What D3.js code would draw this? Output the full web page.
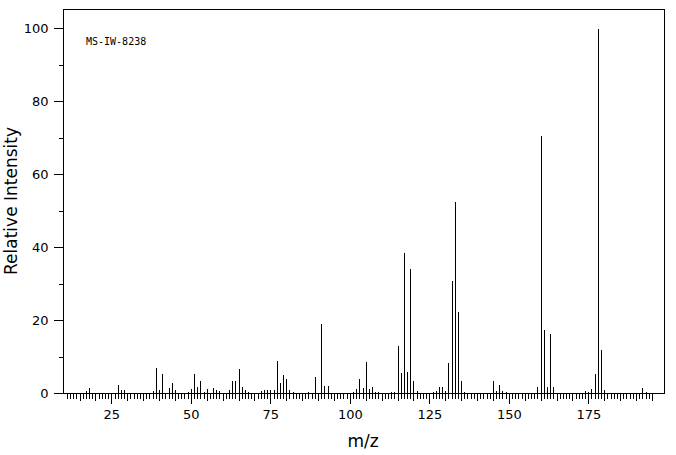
<!DOCTYPE html>
<html>
<head>
<meta charset="utf-8">
<script src="https://cdn.jsdelivr.net/npm/d3@7"></script>
<style>
	body { margin: 0; background: #fff; }
</style>
</head>
<body>
<div id="chart"></div>
<script>
// peaks
var mz = [15, 16, 17, 18, 27, 28, 29, 31, 37, 38, 39, 40, 41, 42, 43, 44, 45, 46, 49, 50,
	51, 52, 53, 54, 55, 56, 57, 58, 59, 61, 62, 63, 64, 65, 66, 67, 68, 69, 71, 72,
	73, 74, 75, 76, 77, 78, 79, 80, 81, 82, 86, 87, 88, 89, 90, 91, 92, 93, 94, 95,
	97, 99, 101, 102, 103, 104, 105, 106, 107, 108, 109, 111, 112, 113, 114, 115, 116, 117, 118, 119,
	120, 121, 122, 126, 127, 128, 129, 130, 131, 132, 133, 134, 135, 136, 145, 146, 147, 148, 149, 150,
	157, 158, 159, 160, 161, 162, 163, 164, 165, 174, 175, 176, 177, 178, 179, 180, 181, 192, 193, 194];
var intensity = [0.4, 0.4, 0.7, 1.6, 2.5, 1.0, 1.0, 0.4, 0.4, 0.8, 7.2, 1.1, 5.6, 0.4, 1.6, 3.1, 1.0, 0.2, 0.5, 1.4,
	5.6, 1.8, 3.6, 0.5, 1.4, 0.3, 1.6, 1.2, 0.7, 0.4, 1.0, 3.6, 3.6, 6.9, 1.8, 1.1, 0.5, 0.4, 0.4, 0.8,
	1.2, 1.2, 1.1, 1.0, 9.1, 3.1, 5.2, 4.1, 1.1, 0.6, 0.4, 0.5, 0.4, 4.7, 0.4, 19.3, 2.2, 2.2, 0.4, 0.3,
	0.3, 0.3, 0.6, 1.4, 4.1, 1.6, 8.8, 1.4, 2.0, 0.5, 0.5, 0.3, 0.4, 0.5, 0.5, 13.1, 5.8, 38.5, 6.0, 34.2,
	3.6, 0.9, 0.4, 0.5, 0.9, 2.0, 2.0, 0.7, 8.5, 30.9, 52.5, 22.5, 3.6, 0.5, 3.6, 0.9, 2.6, 0.9, 0.5, 0.3,
	0.4, 0.4, 1.9, 70.6, 17.5, 1.9, 16.4, 1.9, 0.4, 0.8, 0.5, 1.4, 5.5, 100, 12.0, 1.1, 0.3, 1.6, 0.6, 0.3];

var xMajor = [25, 50, 75, 100, 125, 150, 175];
var yMajor = [0, 20, 40, 60, 80, 100];
var yMinor = [10, 30, 50, 70, 90];
var title = "MS-IW-8238";

var width = 676, height = 455;
var plotLeft = 63, plotRight = 664, plotTop = 9, plotBottom = 393;

var svg = d3.select("#chart").append("svg")
	.attr("width", width)
	.attr("height", height);

var x = d3.scaleLinear().domain([9.8, 198.8]).range([plotLeft, plotRight]);
var y = d3.scaleLinear().domain([0, 100]).range([plotBottom, 28]);

function px(v) { return Math.round(v) + 0.5; }

// frame
svg.append("rect")
	.attr("x", plotLeft + 0.5)
	.attr("y", plotTop + 0.5)
	.attr("width", plotRight - plotLeft)
	.attr("height", plotBottom - plotTop)
	.attr("fill", "none")
	.attr("stroke", "#000")
	.attr("shape-rendering", "crispEdges");

// x axis: minor every unit, medium every 5, labelled every 25
var xMinor = d3.range(11, 196).filter(function(d){ return d % 5 != 0; });
var xMid = d3.range(15, 196, 5).filter(function(d){ return d % 25 != 0; });

function styleAxis(g) {
	g.select(".domain").remove();
	g.selectAll("line").attr("stroke", "#000").attr("shape-rendering", "crispEdges");
	g.selectAll("text")
		.style("font-family", "'DejaVu Sans', sans-serif")
		.style("font-size", "13px")
		.attr("fill", "#000");
}

function xTicks(values, size, labels) {
	var g = svg.append("g")
		.attr("transform", "translate(0," + (plotBottom + 0.5) + ")")
		.call(d3.axisBottom(x).tickValues(values).tickSize(size).tickPadding(6)
			.tickFormat(labels ? d3.format("d") : ""));
	styleAxis(g);
	return g;
}
xTicks(xMinor, 5, false);
xTicks(xMid, 7, false);
xTicks(xMajor, 10, true);

function yTicks(values, size, labels) {
	var g = svg.append("g")
		.attr("transform", "translate(" + (plotLeft + 0.5) + ",0)")
		.call(d3.axisLeft(y).tickValues(values).tickSize(size).tickPadding(5)
			.tickFormat(labels ? d3.format("d") : ""));
	styleAxis(g);
	return g;
}
yTicks(yMinor, 5, false);
yTicks(yMajor, 10, true);

// peaks
svg.append("g")
	.selectAll("line")
	.data(mz)
	.enter()
	.append("line")
	.attr("x1", function(d){ return px(x(d)); })
	.attr("x2", function(d){ return px(x(d)); })
	.attr("y1", plotBottom + 0.5)
	.attr("y2", function(d, i){ return Math.round(y(intensity[i])) + 0.5; })
	.attr("stroke", "#000")
	.attr("shape-rendering", "crispEdges");

svg.append("text")
	.attr("x", 86)
	.attr("y", 45)
	.style("font-family", "'DejaVu Sans Mono', monospace")
	.style("font-size", "10px")
	.text(title);

svg.append("text")
	.attr("x", 363)
	.attr("y", 447)
	.attr("text-anchor", "middle")
	.style("font-family", "'DejaVu Sans', sans-serif")
	.style("font-size", "17px")
	.text("m/z");

svg.append("text")
	.attr("transform", "translate(17,201) rotate(-90)")
	.attr("text-anchor", "middle")
	.style("font-family", "'DejaVu Sans', sans-serif")
	.style("font-size", "17px")
	.text("Relative Intensity");
</script>
</body>
</html>
